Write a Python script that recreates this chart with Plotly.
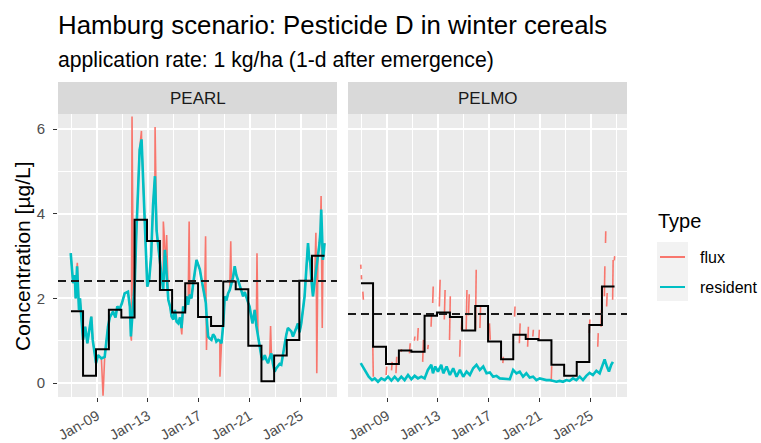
import plotly.graph_objects as go
from plotly.subplots import make_subplots
from datetime import datetime, timedelta

# ---------------- data ----------------
models = ["PEARL", "PELMO"]

# annual (step) values, boundaries in decimal years
step_years = [2006.95, 2007.90, 2008.92, 2009.93, 2010.91, 2011.95, 2012.93, 2013.94,
              2014.90, 2015.93, 2016.94, 2017.96, 2018.92, 2019.90, 2020.89, 2021.92,
              2022.92, 2023.91, 2024.90, 2025.89, 2026.88]
pearl_annual = [1.70, 0.17, 0.80, 1.73, 1.55, 3.86, 3.36, 2.20, 1.67, 2.36,
                1.56, 1.35, 2.40, 2.22, 0.88, 0.04, 0.65, 1.02, 2.42, 3.01]
pelmo_annual = [2.36, 0.86, 0.45, 0.77, 0.74, 1.59, 1.67, 1.56, 1.24, 1.82,
                0.98, 0.56, 1.14, 1.04, 1.01, 0.43, 0.17, 0.50, 1.37, 2.28]
pearl_threshold = 2.41
pelmo_threshold = 1.63

# PEARL resident concentration
pearl_res_year = [2006.93, 2007.12, 2007.25, 2007.32, 2007.43, 2007.58, 2007.66, 2007.90,
                  2008.07, 2008.24, 2008.55, 2008.66, 2008.92, 2009.08, 2009.34, 2009.60,
                  2009.86, 2010.00, 2010.25, 2010.45, 2010.59, 2010.78, 2010.96, 2011.17,
                  2011.43, 2011.58, 2011.66, 2011.85, 2011.97, 2012.08, 2012.22, 2012.35,
                  2012.50, 2012.62, 2012.74, 2012.85, 2012.95, 2013.10, 2013.25, 2013.40,
                  2013.55, 2013.68, 2013.81, 2013.94, 2014.08, 2014.20, 2014.33, 2014.46,
                  2014.60, 2014.75, 2014.86, 2015.00, 2015.12, 2015.25, 2015.38, 2015.52,
                  2015.64, 2015.77, 2015.90, 2016.03, 2016.16, 2016.29, 2016.42, 2016.56,
                  2016.70, 2016.82, 2016.95, 2017.08, 2017.21, 2017.34, 2017.45, 2017.55,
                  2017.65, 2017.73, 2017.86, 2017.99, 2018.12, 2018.25, 2018.38, 2018.52,
                  2018.65, 2018.78, 2018.92, 2019.04, 2019.17, 2019.30, 2019.43, 2019.56,
                  2019.69, 2019.82, 2019.95, 2020.08, 2020.22, 2020.35, 2020.48, 2020.61,
                  2020.74, 2020.88, 2020.99, 2021.10, 2021.21, 2021.30, 2021.39, 2021.52,
                  2021.65, 2021.78, 2021.92, 2022.05, 2022.18, 2022.31, 2022.44, 2022.57,
                  2022.70, 2022.83, 2022.96, 2023.09, 2023.22, 2023.35, 2023.48, 2023.61,
                  2023.75, 2023.88, 2024.00, 2024.14, 2024.27, 2024.40, 2024.53, 2024.66,
                  2024.79, 2024.92, 2025.05, 2025.18, 2025.31, 2025.45, 2025.58, 2025.66,
                  2025.76, 2025.86, 2025.97, 2026.10, 2026.23, 2026.36, 2026.49, 2026.56,
                  2026.62, 2026.68, 2026.75, 2026.82, 2026.88]
pearl_res_val = [3.07, 2.36, 2.55, 2.00, 2.76, 1.73, 2.00, 1.02,
                 1.33, 0.94, 1.57, 1.02, 0.47, 0.66, 0.58, 0.62,
                 1.33, 1.55, 1.69, 1.55, 1.81, 1.75, 1.89, 2.12,
                 2.16, 1.80, 1.10, 2.05, 2.40, 3.47, 4.60, 5.52,
                 5.76, 4.80, 3.70, 2.90, 2.28, 2.45, 3.00, 4.20,
                 4.89, 3.60, 3.23, 2.76, 2.50, 2.20, 3.15, 2.60,
                 1.97, 1.80, 1.57, 1.50, 1.73, 1.45, 1.41, 1.55,
                 1.30, 1.81, 1.70, 2.05, 1.85, 2.09, 2.00, 2.36,
                 2.70, 2.91, 2.80, 2.68, 2.45, 2.20, 2.05, 1.89,
                 1.40, 1.10, 1.05, 1.02, 1.15, 1.10, 0.98, 1.02,
                 1.00, 0.94, 1.40, 2.05, 1.95, 2.12, 2.20, 2.36,
                 2.50, 2.76, 2.55, 2.44, 2.30, 2.20, 2.05, 2.15,
                 2.00, 1.90, 1.81, 1.60, 1.41, 1.55, 1.73, 1.35,
                 1.10, 0.85, 0.62, 0.55, 0.66, 0.55, 0.47, 0.60,
                 0.70, 0.45, 0.27, 0.35, 0.39, 0.45, 0.43, 0.70,
                 0.94, 1.15, 1.30, 1.25, 1.22, 1.10, 1.18, 1.30,
                 1.41, 1.20, 1.41, 1.70, 2.05, 2.70, 3.31, 3.00,
                 2.84, 2.40, 2.05, 2.40, 2.76, 3.00, 3.31, 3.60,
                 4.10, 3.50, 2.91, 3.10, 3.31]

# PEARL flux: follows the resident line, plus short spikes
pearl_flux_spike_year = [2007.45, 2009.47, 2011.70, 2011.75, 2012.49, 2013.56, 2014.21,
                         2014.47, 2015.66, 2016.24, 2017.53, 2017.60, 2018.66, 2019.51,
                         2021.57, 2022.64, 2026.20, 2026.27, 2026.61, 2026.70]
pearl_flux_spike_val = [2.84, -0.30, 1.00, 6.30, 5.96, 6.05, 3.82,
                        3.50, 1.15, 3.82, 3.47, 0.78, 0.15, 3.35,
                        3.07, 1.35, 3.55, 0.23, 4.42, 1.30]

# PELMO resident concentration
pelmo_res_year = [2006.93, 2007.25, 2007.56, 2007.82, 2008.03, 2008.29, 2008.55, 2008.82,
                  2009.08, 2009.34, 2009.60, 2009.86, 2010.12, 2010.38, 2010.65, 2010.91,
                  2011.17, 2011.43, 2011.69, 2011.95, 2012.21, 2012.48, 2012.61, 2012.79,
                  2013.00, 2013.26, 2013.42, 2013.68, 2013.94, 2014.20, 2014.46, 2014.73,
                  2014.99, 2015.25, 2015.51, 2015.77, 2016.03, 2016.29, 2016.56, 2016.82,
                  2017.08, 2017.34, 2017.60, 2017.86, 2018.12, 2018.39, 2018.65, 2018.91,
                  2019.17, 2019.43, 2019.69, 2019.95, 2020.21, 2020.48, 2020.74, 2021.00,
                  2021.26, 2021.52, 2021.78, 2022.05, 2022.31, 2022.57, 2022.83, 2023.09,
                  2023.35, 2023.61, 2023.88, 2024.14, 2024.40, 2024.66, 2024.92, 2025.18,
                  2025.45, 2025.71, 2025.92, 2026.10, 2026.28, 2026.44, 2026.62, 2026.75]
pelmo_res_val = [0.47, 0.31, 0.15, 0.07, 0.11, 0.03, 0.11, 0.07,
                 0.15, 0.06, 0.15, 0.06, 0.15, 0.07, 0.19, 0.09,
                 0.17, 0.11, 0.15, 0.11, 0.31, 0.43, 0.23, 0.39,
                 0.27, 0.43, 0.23, 0.39, 0.19, 0.35, 0.15, 0.31,
                 0.15, 0.27, 0.19, 0.35, 0.43, 0.31, 0.39, 0.23,
                 0.25, 0.15, 0.17, 0.11, 0.10, 0.09, 0.09, 0.31,
                 0.23, 0.27, 0.15, 0.23, 0.13, 0.15, 0.07, 0.11,
                 0.09, 0.07, 0.07, 0.05, 0.03, 0.05, 0.03, 0.07,
                 0.05, 0.11, 0.07, 0.15, 0.07, 0.17, 0.24, 0.19,
                 0.29, 0.23, 0.39, 0.56, 0.39, 0.27, 0.43, 0.50]

# PELMO flux: broken line (None = gap)
pelmo_flux_year = [2006.93, 2006.95, None, 2006.98, 2007.00, None, 2007.10, 2007.14, None,
                   2007.88, 2007.92, None, 2008.93, 2008.97, None, 2009.35, 2009.40, None,
                   2009.70, 2009.76, None, 2010.10, 2010.14, None, 2010.76, 2010.82, None,
                   2011.15, 2011.19, None, 2011.40, 2011.45, None, 2011.80, 2011.86, None,
                   2012.20, 2012.24, None, 2012.46, 2012.50, None, 2012.59, 2012.63, None,
                   2013.11, 2013.17, None, 2013.50, 2013.56, None, 2013.91, 2013.97, None,
                   2014.71, 2014.75, None, 2014.84, 2014.88, None, 2015.22, 2015.28, None,
                   2015.40, 2015.46, None, 2015.95, 2016.01, None, 2016.30, 2016.35, None,
                   2017.05, 2017.11, None, 2018.10, 2018.14, None, 2019.02, 2019.06, None,
                   2019.40, 2019.46, None, 2020.05, 2020.11, None, 2020.46, 2020.50, None,
                   2020.93, 2020.97, None, 2021.90, 2021.94, None, 2024.90, 2024.94, None,
                   2025.56, 2025.60, None, 2025.82, 2025.86, None, 2026.08, 2026.12, None,
                   2026.17, 2026.19, None, 2026.26, 2026.30, None, 2026.73, 2026.77, None,
                   2026.86, 2026.89]
pelmo_flux_val = [2.80, 2.70, None, 2.55, 2.45, None, 2.16, 1.97, None,
                  0.90, 0.15, None, 0.19, 0.39, None, 0.30, 0.50, None,
                  0.23, 0.62, None, 0.74, 0.80, None, 0.70, 0.94, None,
                  1.00, 1.10, None, 1.00, 1.30, None, 0.50, 1.02, None,
                  0.80, 0.90, None, 1.33, 1.65, None, 1.89, 2.28, None,
                  1.81, 2.44, None, 1.50, 2.20, None, 1.02, 2.05, None,
                  0.62, 1.02, None, 1.26, 1.49, None, 1.26, 2.20, None,
                  1.60, 2.10, None, 1.26, 2.68, None, 1.30, 1.80, None,
                  1.41, 1.02, None, 0.47, 0.62, None, 1.57, 1.81, None,
                  0.94, 1.41, None, 0.86, 1.33, None, 1.10, 1.26, None,
                  1.02, 1.26, None, 0.03, 0.40, None, 1.18, 1.50, None,
                  0.86, 1.18, None, 1.33, 1.73, None, 2.05, 2.76, None,
                  3.31, 3.59, None, 1.81, 2.13, None, 1.97, 2.91, None,
                  2.90, 3.00]

x_range_years = [2005.93, 2027.86]
y_range = [-0.33, 6.36]

# ---------------- helpers ----------------
def to_date(y):
    if y is None:
        return None
    yr = int(y)
    return datetime(yr, 1, 1) + timedelta(days=(y - yr) * 365.25)

def dates(lst):
    return [to_date(v) for v in lst]

# merge flux spikes into PEARL flux path
pearl_flux = sorted(list(zip(pearl_res_year, pearl_res_val)) +
                    list(zip(pearl_flux_spike_year, pearl_flux_spike_val)))
pearl_flux_year = [p[0] for p in pearl_flux]
pearl_flux_val = [p[1] for p in pearl_flux]

FLUX = "#F8766D"
RES = "#00BFC4"
FONT = "Liberation Sans, Arial, sans-serif"

fig = make_subplots(rows=1, cols=2, shared_yaxes=True, horizontal_spacing=0.02)

panels = [
    (1, pearl_flux_year, pearl_flux_val, pearl_res_year, pearl_res_val, pearl_annual, pearl_threshold),
    (2, pelmo_flux_year, pelmo_flux_val, pelmo_res_year, pelmo_res_val, pelmo_annual, pelmo_threshold),
]
for col, fy, fv, ry, rv, ann, thr in panels:
    fig.add_trace(go.Scatter(x=dates(fy), y=fv, mode="lines", name="flux",
                             line=dict(color=FLUX, width=1.6), connectgaps=False,
                             showlegend=False), row=1, col=col)
    fig.add_trace(go.Scatter(x=dates(ry), y=rv, mode="lines", name="resident",
                             line=dict(color=RES, width=2.6), showlegend=False),
                  row=1, col=col)
    fig.add_trace(go.Scatter(x=dates(step_years), y=ann + [ann[-1]], mode="lines",
                             line=dict(color="black", width=2, shape="hv"),
                             showlegend=False), row=1, col=col)
    fig.add_hline(y=thr, line=dict(color="#1a1a1a", width=2, dash="8px,5px"),
                  row=1, col=col)

PW = 761 - 58 - 134
PH = 443 - 114 - 46
dom_left = [0, 279 / PW]
dom_right = [290 / PW, 1]

xcommon = dict(
    type="date", range=[to_date(x_range_years[0]), to_date(x_range_years[1])],
    tick0="2009-01-01", dtick="M48", tickformat="%b-%y", tickangle=-30,
    ticks="outside", ticklen=4, tickwidth=1.2, tickcolor="#333333",
    tickfont=dict(family=FONT, size=14.5, color="#4D4D4D"),
    showgrid=True, gridcolor="white", gridwidth=1.5,
    minor=dict(dtick="M24", tick0="2007-01-01", showgrid=True,
               gridcolor="white", gridwidth=0.7, ticks=""),
    zeroline=False, showline=False, automargin=False,
)
fig.update_layout(xaxis=dict(domain=dom_left, **xcommon),
                  xaxis2=dict(domain=dom_right, **xcommon))
ycommon = dict(range=y_range, tick0=0, dtick=2, showgrid=True, gridcolor="white",
               gridwidth=1.5, minor=dict(dtick=1, showgrid=True, gridcolor="white",
                                         gridwidth=0.7, ticks=""),
               zeroline=False, showline=False, automargin=False)
fig.update_layout(
    yaxis=dict(ticks="outside", ticklen=4, tickwidth=1.2, tickcolor="#333333",
               ticklabelstandoff=5,
               tickfont=dict(family=FONT, size=15, color="#4D4D4D"), **ycommon),
    yaxis2=dict(ticks="", showticklabels=False, matches="y", **ycommon),
)

fig.update_layout(
    width=761, height=443,
    margin=dict(l=58, r=134, t=114, b=46, pad=0, autoexpand=False),
    paper_bgcolor="white", plot_bgcolor="#EBEBEB",
    font=dict(family=FONT, color="#1A1A1A"),
    showlegend=False,
)

def py(px):  # pixel row -> paper y
    return (397 - px) / PH

def px_(x):  # pixel col -> paper x
    return (x - 58) / PW

shapes = []
annotations = []
# strips
for dom, label in zip([dom_left, dom_right], models):
    shapes.append(dict(type="rect", xref="paper", yref="paper", x0=dom[0], x1=dom[1],
                       y0=1, y1=py(82), fillcolor="#D9D9D9", line=dict(width=0),
                       layer="below"))
    annotations.append(dict(text=label, xref="paper", yref="paper",
                            x=(dom[0] + dom[1]) / 2, y=py(98), xanchor="center",
                            yanchor="middle", showarrow=False,
                            font=dict(family=FONT, size=17, color="#1A1A1A")))
# titles
annotations.append(dict(text="Hamburg scenario: Pesticide D in winter cereals",
                        xref="paper", yref="paper", x=px_(56), y=py(25),
                        xanchor="left", yanchor="middle", showarrow=False,
                        font=dict(family=FONT, size=25.8, color="black")))
annotations.append(dict(text="application rate: 1 kg/ha (1-d after emergence)",
                        xref="paper", yref="paper", x=px_(56), y=py(60),
                        xanchor="left", yanchor="middle", showarrow=False,
                        font=dict(family=FONT, size=21.2, color="black")))
# y title
annotations.append(dict(text="Concentration [µg/L]", xref="paper", yref="paper",
                        x=px_(22), y=py(256), xanchor="center", yanchor="middle",
                        textangle=-90, showarrow=False,
                        font=dict(family=FONT, size=21, color="black")))
# legend (manual)
annotations.append(dict(text="Type", xref="paper", yref="paper", x=px_(656), y=py(221),
                        xanchor="left", yanchor="middle", showarrow=False,
                        font=dict(family=FONT, size=20, color="black")))
shapes.append(dict(type="rect", xref="paper", yref="paper", x0=px_(657), x1=px_(688),
                   y0=py(301), y1=py(242), fillcolor="#F2F2F2", line=dict(width=0)))
for label, color, yc in [("flux", FLUX, 257), ("resident", RES, 287)]:
    shapes.append(dict(type="line", xref="paper", yref="paper", x0=px_(660), x1=px_(685),
                       y0=py(yc), y1=py(yc), line=dict(color=color, width=2)))
    annotations.append(dict(text=label, xref="paper", yref="paper", x=px_(698), y=py(yc),
                            xanchor="left", yanchor="middle", showarrow=False,
                            font=dict(family=FONT, size=16, color="black")))

fig.update_layout(shapes=list(fig.layout.shapes) + shapes, annotations=annotations)

fig.write_html("out.html", config={"displayModeBar": False},
               post_script="document.body.style.margin='0px';"
                           "document.body.style.overflow='hidden';")
